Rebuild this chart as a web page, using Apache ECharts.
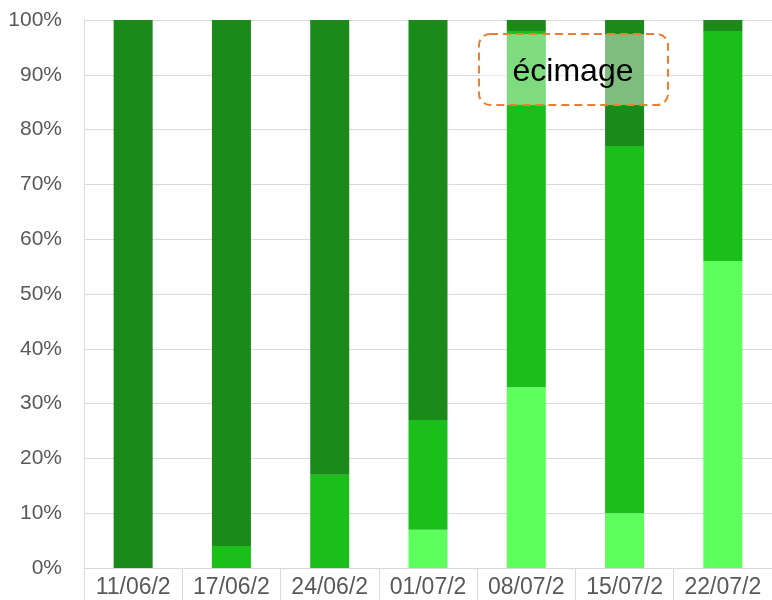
<!DOCTYPE html>
<html>
<head>
<meta charset="utf-8">
<script src="https://cdn.jsdelivr.net/npm/echarts@6/dist/echarts.min.js"></script>
<style>
    html, body { margin: 0; padding: 0; background: #fff; }
    #main { width: 772px; height: 600px; }
</style>
</head>
<body>
<div id="main"></div>
<script>
    // catégories (dates tronquées comme dans l'original)
    var categories = ['11/06/2', '17/06/2', '24/06/2', '01/07/2', '08/07/2', '15/07/2', '22/07/2'];
    // parts en % (empilées de bas en haut)
    var lightShare = [0, 0, 0, 7, 33, 10, 56];
    var midShare = [0, 4, 17, 20, 65, 67, 42];
    var darkShare = [100, 96, 83, 73, 2, 23, 2];
    var yTicks = [0, 10, 20, 30, 40, 50, 60, 70, 80, 90, 100];

    var chart = echarts.init(document.getElementById('main'));
    var font = '"Liberation Sans", Arial, sans-serif';

    var option = {
        animation: false,
        // la zone de tracé dépasse un peu à droite (image recadrée)
        grid: { left: 84, right: -8, top: 20, bottom: 32 },
        xAxis: {
            type: 'category',
            data: categories,
            axisLine: { lineStyle: { color: '#d9d9d9', width: 1 } },
            axisTick: { show: true, length: 32, lineStyle: { color: '#d9d9d9' } },
            axisLabel: { color: '#595959', fontSize: 23, fontFamily: font, margin: 8, interval: 0 }
        },
        yAxis: {
            type: 'value',
            min: yTicks[0],
            max: yTicks[yTicks.length - 1],
            interval: 10,
            axisLine: { show: true, lineStyle: { color: '#d9d9d9' } },
            axisTick: { show: false },
            splitLine: { lineStyle: { color: '#d9d9d9' } },
            axisLabel: {
                color: '#595959', fontSize: 21, fontFamily: font, margin: 22,
                formatter: '{value}%'
            }
        },
        series: [
            { name: 'light', type: 'bar', stack: 'tot', barWidth: 39, data: lightShare,
              itemStyle: { color: '#5cff5c' } },
            { name: 'mid', type: 'bar', stack: 'tot', barWidth: 39, data: midShare,
              itemStyle: { color: '#1abf1a' } },
            { name: 'dark', type: 'bar', stack: 'tot', barWidth: 39, data: darkShare,
              itemStyle: { color: '#1a8a1a' } }
        ],
        graphic: [
            {
                type: 'rect',
                z: 100,
                shape: { x: 479, y: 34, width: 189, height: 71, r: 11 },
                style: {
                    fill: 'rgba(255,255,255,0.44)',
                    stroke: '#ed7d31',
                    lineWidth: 2,
                    lineDash: [8, 5]
                }
            },
            {
                type: 'text',
                z: 101,
                x: 573, y: 72,
                style: {
                    text: 'écimage',
                    fill: '#000',
                    font: '32px ' + font,
                    textAlign: 'center',
                    textVerticalAlign: 'middle'
                }
            }
        ]
    };

    chart.setOption(option);
</script>
</body>
</html>
